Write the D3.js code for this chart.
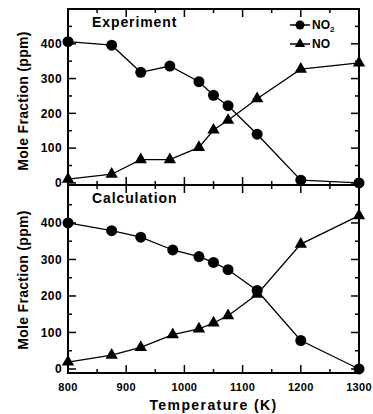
<!DOCTYPE html>
<head>
<meta charset="utf-8">
<title>NO2 / NO</title>
<script src="https://d3js.org/d3.v7.min.js"></script>
<style>
  body { margin: 0; background: #fff; }
  text { font-family: Arial, "Liberation Sans", sans-serif; font-weight: bold; fill: #000; }
</style>
</head>
<body>
<div id="chart"></div>
<script>

// temperatures (K)
var tempExp  = [800, 875, 925, 975, 1025, 1050, 1075, 1125, 1200, 1300];
var tempCalc = [800, 875, 925, 980, 1025, 1050, 1075, 1125, 1200, 1300];

// mole fraction (ppm)
var no2Exp  = [406, 396, 318, 336, 291, 252, 222, 140, 8, 0];
var noExp   = [11, 25, 67, 67, 102, 152, 180, 242, 327, 345];
var no2Calc = [400, 379, 361, 326, 308, 292, 272, 215, 78, 0];
var noCalc  = [19, 38, 59, 94, 110, 126, 146, 205, 342, 420];

var xTicks = [800, 900, 1000, 1100, 1200, 1300];
var yTicks = [0, 100, 200, 300, 400];

var W = 373, H = 414;
var left = 68, right = 359;

var svg = d3.select("#chart")
  .append("svg")
    .attr("width", W)
    .attr("height", H);

var x = d3.scaleLinear()
  .domain([800, 1300])
  .range([left, right]);

var panels = [
  { name: "Experiment", t: tempExp, no2: no2Exp, no: noExp, labelY: 101,
    y: d3.scaleLinear().domain([-6, 500]).range([185, 9]), top: 9, bottom: 185 },
  { name: "Calculation", t: tempCalc, no2: no2Calc, no: noCalc, labelY: 280,
    y: d3.scaleLinear().domain([-11, 504]).range([373, 185]), top: 185, bottom: 373 }
];

var triangle = d3.symbol().type(d3.symbolTriangle).size(66);
var triangleSmall = d3.symbol().type(d3.symbolTriangle).size(48);

panels.forEach(function(p, i) {
  var g = svg.append("g");
  var y = p.y;

  // inward ticks all around
  var minorX = d3.range(800, 1301, 50);
  var minorY = d3.range(0, 451, 50);
  var tk = function(d) { return d % 100 == 0 ? 8 : 4; };

  g.selectAll(".tb")
    .data(minorX)
    .enter().append("line")
      .attr("x1", function(d) { return x(d); })
      .attr("x2", function(d) { return x(d); })
      .attr("y1", p.bottom)
      .attr("y2", function(d) { return p.bottom - tk(d); })
      .attr("stroke", "#000").attr("stroke-width", 1.5);
  g.selectAll(".tt")
    .data(minorX)
    .enter().append("line")
      .attr("x1", function(d) { return x(d); })
      .attr("x2", function(d) { return x(d); })
      .attr("y1", p.top)
      .attr("y2", function(d) { return p.top + tk(d); })
      .attr("stroke", "#000").attr("stroke-width", 1.5);
  g.selectAll(".tl")
    .data(minorY)
    .enter().append("line")
      .attr("x1", left)
      .attr("x2", function(d) { return left + tk(d); })
      .attr("y1", function(d) { return y(d); })
      .attr("y2", function(d) { return y(d); })
      .attr("stroke", "#000").attr("stroke-width", 1.5);
  g.selectAll(".tr")
    .data(minorY)
    .enter().append("line")
      .attr("x1", right)
      .attr("x2", function(d) { return right - tk(d); })
      .attr("y1", function(d) { return y(d); })
      .attr("y2", function(d) { return y(d); })
      .attr("stroke", "#000").attr("stroke-width", 1.5);

  // y tick labels
  g.selectAll(".yl")
    .data(yTicks)
    .enter().append("text")
      .attr("x", left - 6)
      .attr("y", function(d) { return y(d); })
      .attr("dy", "0.36em")
      .style("text-anchor", "end")
      .style("font-size", "12px")
      .style("letter-spacing", "0.4px")
      .text(function(d) { return d; });

  // frame
  g.append("rect")
    .attr("x", left).attr("y", p.top)
    .attr("width", right - left).attr("height", p.bottom - p.top)
    .attr("fill", "none").attr("stroke", "#000").attr("stroke-width", 2);

  // y label
  g.append("text")
    .attr("transform", "translate(28," + p.labelY + ")rotate(-90)")
    .style("text-anchor", "middle")
    .style("font-size", "14px")
    .style("letter-spacing", "0.3px")
    .text("Mole Fraction (ppm)");

  // panel title
  g.append("text")
    .attr("x", 92)
    .attr("y", p.top + 18)
    .style("font-size", "14px")
    .style("letter-spacing", "0.9px")
    .text(p.name);

  var line = d3.line()
    .x(function(d) { return x(d[0]); })
    .y(function(d) { return y(d[1]); });

  var no2 = d3.zip(p.t, p.no2);
  var no = d3.zip(p.t, p.no);

  g.append("path").datum(no2)
    .attr("d", line).attr("fill", "none").attr("stroke", "#000").attr("stroke-width", 1.3);
  g.append("path").datum(no)
    .attr("d", line).attr("fill", "none").attr("stroke", "#000").attr("stroke-width", 1.3);

  g.selectAll(".c")
    .data(no2)
    .enter().append("circle")
      .attr("cx", function(d) { return x(d[0]); })
      .attr("cy", function(d) { return y(d[1]); })
      .attr("r", 5.5)
      .attr("fill", "#000");

  g.selectAll(".tri")
    .data(no)
    .enter().append("path")
      .attr("d", triangle)
      .attr("transform", function(d) { return "translate(" + x(d[0]) + "," + y(d[1]) + ")"; })
      .attr("fill", "#000");
});

// x tick labels
svg.selectAll(".xl")
  .data(xTicks)
  .enter().append("text")
    .attr("x", function(d) { return x(d); })
    .attr("y", 391)
    .style("text-anchor", "middle")
    .style("font-size", "11px")
    .style("letter-spacing", "0.3px")
    .text(function(d) { return d; });

svg.append("text")
  .attr("x", (left + right) / 2)
  .attr("y", 410)
  .style("text-anchor", "middle")
  .style("font-size", "14px")
  .style("letter-spacing", "1.4px")
  .text("Temperature (K)");

// legend
var leg = svg.append("g");
leg.append("line")
  .attr("x1", 290).attr("x2", 310).attr("y1", 25).attr("y2", 25)
  .attr("stroke", "#000").attr("stroke-width", 1.5);
leg.append("circle")
  .attr("cx", 300).attr("cy", 25).attr("r", 4.5).attr("fill", "#000");
var t1 = leg.append("text")
  .attr("x", 312).attr("y", 29)
  .style("font-size", "12px")
  .text("NO");
t1.append("tspan")
  .attr("dy", 3)
  .style("font-size", "8px")
  .text("2");
leg.append("line")
  .attr("x1", 290).attr("x2", 310).attr("y1", 44).attr("y2", 44)
  .attr("stroke", "#000").attr("stroke-width", 1.5);
leg.append("path")
  .attr("d", triangleSmall)
  .attr("transform", "translate(300,44)")
  .attr("fill", "#000");
leg.append("text")
  .attr("x", 312).attr("y", 48)
  .style("font-size", "12px")
  .text("NO");

</script>
</body>
